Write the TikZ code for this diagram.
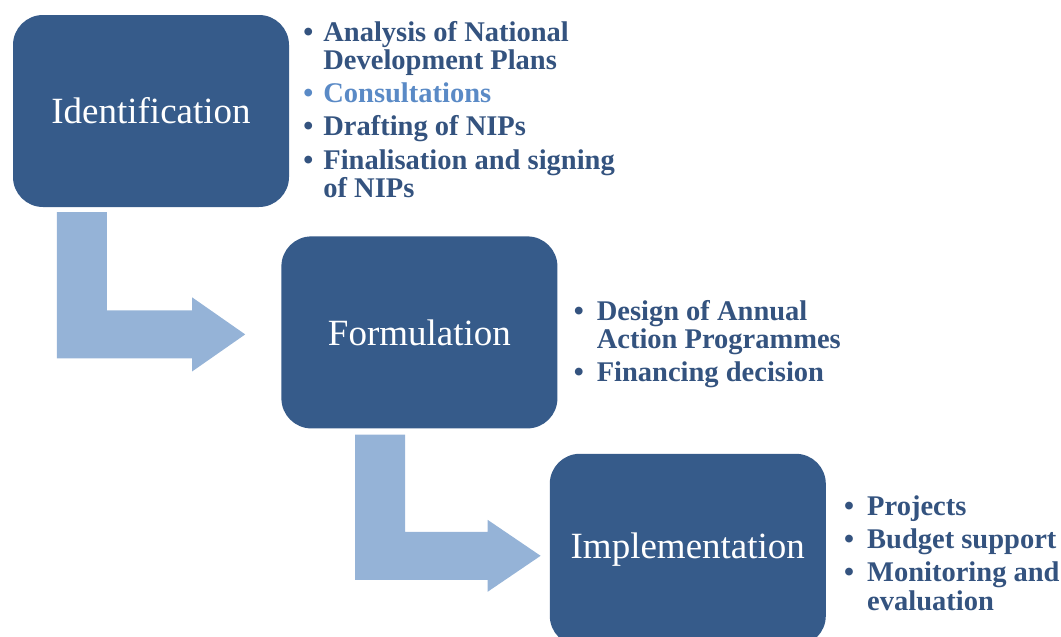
\documentclass[tikz,border=0pt]{standalone}
\usepackage{fontspec}
\setmainfont{Liberation Serif}
\usetikzlibrary{positioning,calc}
\definecolor{stageblue}{HTML}{365B8A}
\definecolor{listblue}{HTML}{34537F}
\definecolor{lightblue}{HTML}{5A8AC6}
\definecolor{arrowblue}{HTML}{95B3D7}

\begin{document}
\begin{tikzpicture}[x=1pt,y=1pt]
\tikzstyle{stage}=[rectangle, rounded corners=30pt, fill=stageblue, text=white, minimum width=276pt, minimum height=192pt, font=\fontsize{37}{42}\selectfont]
\tikzstyle{steps}=[inner sep=0pt, text=listblue, font=\fontsize{28.5}{28}\selectfont\bfseries]
\tikzstyle{bendarrow}=[fill=arrowblue]
\useasboundingbox (0,0) rectangle (1061,-637);
\node[stage] (ident) at (151,-111) {Identification};
\node[stage] (form) [below right=29pt and -8pt of ident] {Formulation};
\node[stage] (impl) [below right=25pt and -8pt of form] {Implementation};
\node[steps] (identsteps) [below right=6pt and 14pt of ident.north east] {\begin{tabular}{@{}l@{\hspace{10pt}}l@{}}
\textbullet & Analysis of National\\
 & Development Plans\\[5pt]
\color{lightblue}\textbullet & \color{lightblue}Consultations\\[5pt]
\textbullet & Drafting of NIPs\\[5pt]
\textbullet & Finalisation and signing\\
 & of NIPs
\end{tabular}};
\node[steps] (formsteps) [below right=64pt and 16pt of form.north east] {\begin{tabular}{@{}l@{\hspace{13pt}}l@{}}
\textbullet & Design of Annual\\
 & Action Programmes\\[5pt]
\textbullet & Financing decision
\end{tabular}};
\node[steps] (implsteps) [below right=42pt and 18pt of impl.north east] {\begin{tabular}{@{}l@{\hspace{13pt}}l@{}}
\textbullet & Projects\\[5pt]
\textbullet & Budget support\\[5pt]
\textbullet & Monitoring and\\
 & evaluation
\end{tabular}};
% bent arrows
\coordinate (bendA) at ($(ident.south west)+(44,-5)$);
\coordinate (tipA) at ($(form.west)+(-36,-2)$);
\coordinate (bendB) at ($(form.south west)+(74,-6)$);
\coordinate (tipB) at ($(impl.west)+(-9,-6)$);
\path[bendarrow] (bendA) -- ++(50,0) |- ($(tipA)+(-53,24)$) -- ++(0,13) -- (tipA) -- ++(-53,-37) -- ++(0,13) -| (bendA) -- cycle;
\path[bendarrow] (bendB) -- ++(50,0) |- ($(tipB)+(-53,24)$) -- ++(0,12) -- (tipB) -- ++(-53,-36) -- ++(0,12) -| (bendB) -- cycle;
\end{tikzpicture}
\end{document}
